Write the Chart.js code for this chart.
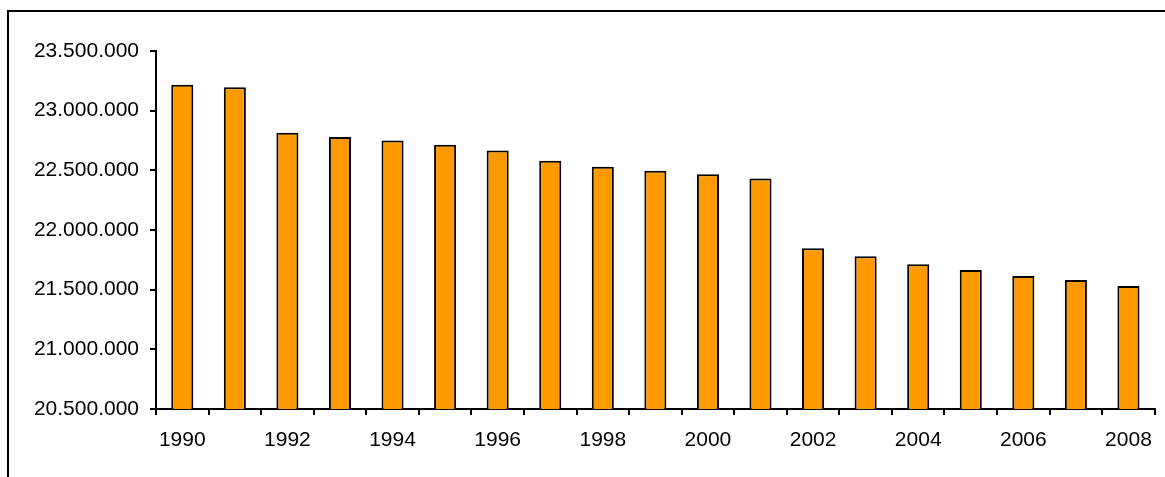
<!DOCTYPE html>
<html>
<head>
<meta charset="utf-8">
<script src="https://cdn.jsdelivr.net/npm/chart.js@4"></script>
<style>
  html, body { margin: 0; padding: 0; background: #fff; overflow: hidden; }
  #frame { position: absolute; left: 7px; top: 10px; width: 1300px; height: 600px; border: 2px solid #000; box-sizing: border-box; }
  #myChart { position: absolute; left: 0; top: 0; }
</style>
</head>
<body>
<div id="frame"></div>
<canvas id="myChart" width="1165" height="477"></canvas>
<script>
// years on the x axis
const years = ["1990", "1991", "1992", "1993", "1994", "1995", "1996", "1997", "1998", "1999",
  "2000", "2001", "2002", "2003", "2004", "2005", "2006", "2007", "2008"];

// values
const population = [23217000, 23197000, 22814000, 22780000, 22750000, 22714000, 22667000,
  22580000, 22530000, 22497000, 22467000, 22431000, 21847000, 21780000, 21714000,
  21664000, 21614000, 21580000, 21530000];

const yMin = 20500000;
const yMax = 23500000;
const yStep = 500000;

const fmt = v => String(v).replace(/\B(?=(\d{3})+(?!\d))/g, ".");

const ctx = document.getElementById("myChart").getContext("2d");

new Chart(ctx, {
  type: "bar",
  data: {
    labels: years,
    datasets: [{
      data: population,
      backgroundColor: "#FF9900",
      borderColor: "#000",
      borderWidth: 2,
      barPercentage: 0.42,
      categoryPercentage: 1
    }]
  },
  options: {
    responsive: false,
    animation: false,
    layout: { padding: { left: 0, top: 51, right: 7, bottom: 0 } },
    plugins: { legend: { display: false }, tooltip: { enabled: false } },
    scales: {
      x: {
        grid: { offset: true, drawOnChartArea: false, drawTicks: true, tickLength: 6, color: "#000", lineWidth: 2 },
        border: { color: "#000", width: 2 },
        ticks: {
          autoSkip: false,
          maxRotation: 0,
          padding: 13,
          color: "#000",
          font: { family: "'Liberation Sans', Arial", size: 21 },
          callback: (v, i) => (i % 2 === 0 ? years[i] : "")
        },
        afterFit: s => { s.height = 68; }
      },
      y: {
        min: yMin,
        max: yMax,
        grid: { drawOnChartArea: false, drawTicks: true, tickLength: 6, color: "#000", lineWidth: 2 },
        border: { color: "#000", width: 2 },
        ticks: {
          stepSize: yStep,
          padding: 11,
          color: "#000",
          font: { family: "'Liberation Sans', Arial", size: 21 },
          callback: v => fmt(v)
        },
        afterFit: s => { s.width = 156; }
      }
    }
  }
});
</script>
</body>
</html>
